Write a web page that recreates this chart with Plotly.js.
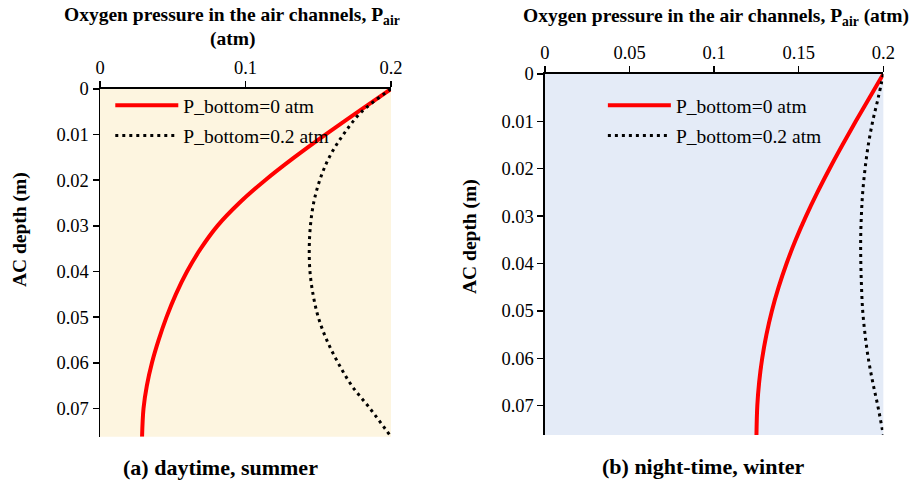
<!DOCTYPE html>
<html>
<head>
<meta charset="utf-8">
<script src="https://cdn.plot.ly/plotly-3.0.1.min.js"></script>
<style>
  html, body { margin: 0; padding: 0; background: #fff; }
  #graphdiv { width: 910px; height: 481px; }
</style>
</head>
<body>
<div id="graphdiv"></div>
<script>
// depth below the top of the air channel (m)
let depth = [0, 0.005, 0.01, 0.015, 0.02, 0.025, 0.03, 0.035, 0.04, 0.045, 0.05, 0.055, 0.06, 0.065, 0.07, 0.0762];

// (a) daytime, summer
let summerZero = [0.2, 0.1772, 0.1549, 0.1335, 0.1135, 0.0957, 0.0807, 0.0692, 0.0598, 0.0521, 0.0457, 0.0403, 0.0357, 0.0322, 0.0299, 0.0289];
let summerTop  = [0.2, 0.1798, 0.1672, 0.1575, 0.1510, 0.1468, 0.1446, 0.1438, 0.1443, 0.1464, 0.1500, 0.1558, 0.1636, 0.1730, 0.1855, 0.2];

// (b) night-time, winter
let winterZero = [0.2, 0.1918, 0.1837, 0.1758, 0.1682, 0.1610, 0.1543, 0.1482, 0.1428, 0.1381, 0.1341, 0.1309, 0.1284, 0.1266, 0.1255, 0.1250];
let winterTop  = [0.2, 0.1970, 0.1937, 0.1911, 0.1892, 0.1878, 0.1870, 0.1866, 0.1867, 0.1871, 0.1878, 0.1892, 0.1911, 0.1937, 0.1967, 0.2];

let seriesNames = ['P_bottom=0 atm', 'P_bottom=0.2 atm'];
let captions = ['(a) daytime, summer', '(b) night-time, winter'];
let xTitleLeft = ['Oxygen pressure in the air channels, P<sub>air</sub>', '(atm)'];
let xTitleRight = 'Oxygen pressure in the air channels, P<sub>air</sub> (atm)';
let yTitle = 'AC depth (m)';

const serif = 'Liberation Serif, Times New Roman, serif';
const red = '#ff0000';

let data = [
  { x: summerZero, y: depth, xaxis: 'x', yaxis: 'y', legend: 'legend', legendgroup: 'a1',
    name: seriesNames[0], mode: 'lines', line: { color: red, width: 4, shape: 'spline' } },
  { x: summerTop, y: depth, xaxis: 'x', yaxis: 'y', legend: 'legend', legendgroup: 'a2',
    name: seriesNames[1], mode: 'lines', line: { color: '#000', width: 3, dash: '3px,4px', shape: 'spline' } },
  { x: winterZero, y: depth, xaxis: 'x2', yaxis: 'y2', legend: 'legend2', legendgroup: 'b1',
    name: seriesNames[0], mode: 'lines', line: { color: red, width: 4, shape: 'spline' } },
  { x: winterTop, y: depth, xaxis: 'x2', yaxis: 'y2', legend: 'legend2', legendgroup: 'b2',
    name: seriesNames[1], mode: 'lines', line: { color: '#000', width: 3, dash: '3px,4px', shape: 'spline' } }
];

function xAxis(domain, anchor, tickvals) {
  return {
    domain: domain, anchor: anchor, side: 'top', range: [0, 0.2], tickvals: tickvals,
    ticks: 'outside', ticklen: 6, tickwidth: 1.5, tickcolor: '#000',
    showline: true, linecolor: '#000', linewidth: 1.5, showgrid: false, zeroline: false,
    tickfont: { family: serif, size: 18.5, color: '#000' }
  };
}
function yAxis(domain, anchor) {
  return {
    domain: domain, anchor: anchor, range: [0.0762, 0], tick0: 0, dtick: 0.01,
    ticks: 'outside', ticklen: 6, tickwidth: 1.5, tickcolor: '#000',
    showline: true, linecolor: '#000', linewidth: 1.5, showgrid: false, zeroline: false,
    tickfont: { family: serif, size: 18.5, color: '#000' }
  };
}
// second set of axes only to draw the inner half of the crossing tick marks
function innerTicks(base, over, anchor) {
  return Object.assign({}, base, {
    overlaying: over, anchor: anchor, ticks: 'inside', showticklabels: false, showline: false
  });
}

let xa = xAxis([0.1099, 0.4297], 'y', [0, 0.1, 0.2]);
let ya = yAxis([0.0921, 0.815], 'x');
let xb = xAxis([0.5989, 0.9707], 'y2', [0, 0.05, 0.1, 0.15, 0.2]);
let yb = yAxis([0.0956, 0.8462], 'x2');

let legendStyle = {
  bgcolor: 'rgba(0,0,0,0)', borderwidth: 0, itemwidth: 63, tracegroupgap: 2,
  font: { family: serif, size: 19.5, color: '#000' },
  xanchor: 'left', yanchor: 'top', itemclick: false
};

function label(text, x, y, size, angle) {
  return { text: '<b>' + text + '</b>', xref: 'paper', yref: 'paper', x: x, y: y,
    xanchor: 'center', yanchor: 'middle', showarrow: false, textangle: angle || 0,
    font: { family: serif, size: size, color: '#000' } };
}

let layout = {
  width: 910, height: 481,
  margin: { l: 0, r: 0, t: 0, b: 0 },
  paper_bgcolor: '#fff', plot_bgcolor: 'rgba(0,0,0,0)',
  font: { family: serif, color: '#000' },
  xaxis: xa, yaxis: ya, xaxis2: xb, yaxis2: yb,
  xaxis3: innerTicks(xa, 'x', 'y'), yaxis3: innerTicks(ya, 'y', 'x'),
  xaxis4: innerTicks(xb, 'x2', 'y2'), yaxis4: innerTicks(yb, 'y2', 'x2'),
  legend: Object.assign({ x: 0.1212, y: 0.8212 }, legendStyle),
  legend2: Object.assign({ x: 0.6625, y: 0.8212 }, legendStyle),
  shapes: [
    { type: 'rect', xref: 'x domain', yref: 'y domain', x0: 0, x1: 1, y0: 0, y1: 1,
      fillcolor: '#fdf5e0', line: { width: 0 }, layer: 'below' },
    { type: 'rect', xref: 'x2 domain', yref: 'y2 domain', x0: 0, x1: 1, y0: 0, y1: 1,
      fillcolor: '#e4ebf7', line: { width: 0 }, layer: 'below' }
  ],
  annotations: [
    label(xTitleLeft[0], 0.2549, 0.9657, 19.5),
    label(xTitleLeft[1], 0.2555, 0.9189, 19.5),
    label(xTitleRight, 0.7863, 0.9647, 19.5),
    label(yTitle, 0.022, 0.5218, 19.5, -90),
    label(yTitle, 0.5165, 0.5073, 19.5, -90),
    label(captions[0], 0.2418, 0.0291, 22),
    label(captions[1], 0.772, 0.0297, 22)
  ],
  showlegend: true
};

Plotly.newPlot('graphdiv', data, layout, { staticPlot: true, displayModeBar: false });
</script>
</body>
</html>
